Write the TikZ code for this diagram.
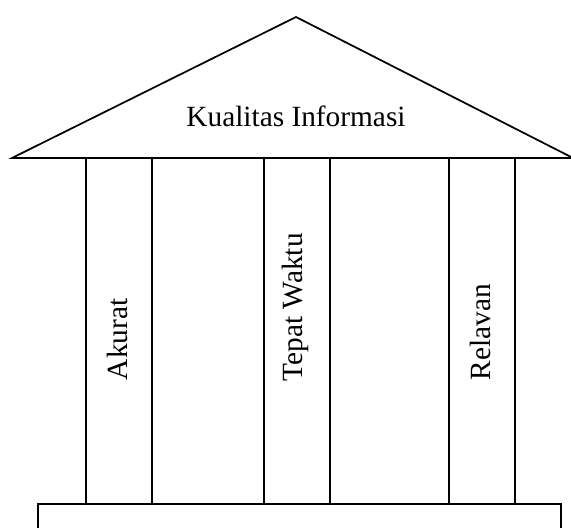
\documentclass[tikz,border=0pt]{standalone}
\usepackage{fontspec}
\setmainfont{Liberation Serif}
\usetikzlibrary{positioning,calc}

\begin{document}
\begin{tikzpicture}[x=0.75pt, y=-0.75pt, line width=1.3pt,
    pillar/.style={draw, line width=1.3pt},
    lbl/.style={font=\fontsize{22}{26}\selectfont, inner sep=0pt}]
  \useasboundingbox (0,0) rectangle (571,528);
  \clip (0,0) rectangle (571,528);

  % roof
  \coordinate (L) at (12,158);
  \coordinate (T) at (296,17);
  \coordinate (R) at (573,158);
  \draw[line join=miter] (L) -- (T) -- (R) -- cycle;
  \node[lbl, anchor=base] (title) at (296,126) {Kualitas Informasi};

  % pillars
  \draw[pillar] (86,158) rectangle (152,504);
  \draw[pillar] (264,158) rectangle (330,504);
  \draw[pillar] (449,158) rectangle (515,504);

  \node[lbl, rotate=90, anchor=west] (akurat) at (117,381) {Akurat};
  \node[lbl, rotate=90, anchor=west] (tepat) at (295,382) {Tepat Waktu};
  \node[lbl, rotate=90, anchor=west] (relavan) at (480,381) {Relavan};

  % base
  \draw[line width=1.6pt] (38,504) rectangle (561,560);
\end{tikzpicture}
\end{document}
